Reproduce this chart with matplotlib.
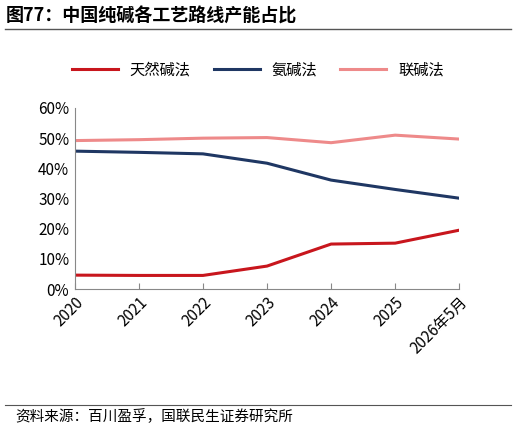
import matplotlib
matplotlib.use("Agg")
import matplotlib.pyplot as plt
from matplotlib.lines import Line2D

plt.rcParams['font.family'] = ['Noto Sans CJK SC', 'DejaVu Sans']

years = ["2020", "2021", "2022", "2023", "2024", "2025", "2026年5月"]
natural = [4.6, 4.5, 4.5, 7.6, 14.9, 15.2, 19.5]
ammonia = [45.7, 45.3, 44.8, 41.7, 36.1, 33.0, 30.1]
joint = [49.2, 49.5, 50.0, 50.2, 48.5, 51.0, 49.7]
names = ["天然碱法", "氨碱法", "联碱法"]
colors = ["#C8161D", "#1F3763", "#EE8A8A"]

fig = plt.figure(figsize=(5.16, 4.32), dpi=100)
ax = fig.add_axes([0.145, 0.331, 0.745, 0.419])
x = range(len(years))
for vals, c, n in zip([natural, ammonia, joint], colors, names):
    ax.plot(x, vals, color=c, lw=2.2, label=n)
ax.set_ylim(0, 60)
ax.set_xlim(0, len(years) - 1)
ax.set_yticks(range(0, 61, 10))
ax.set_yticklabels([f"{v}%" for v in range(0, 61, 10)], fontsize=11)
ax.set_xticks(list(x))
ax.set_xticklabels(years, rotation=45, ha='right', rotation_mode='anchor', fontsize=11)
for s in ['top', 'right']:
    ax.spines[s].set_visible(False)
ax.spines['left'].set_color('#888888')
ax.spines['bottom'].set_color('#888888')
ax.tick_params(axis='y', length=0, pad=4)
ax.tick_params(axis='x', direction='in', length=4, color='#888888')
fig.legend(handles=[Line2D([], [], color=c, lw=2.2) for c in colors], labels=names,
           loc='center', bbox_to_anchor=(0.5, 0.838), ncol=3, frameon=False,
           fontsize=11, handlelength=3, columnspacing=1.5)
fig.text(0.012, 0.962, "图77：中国纯碱各工艺路线产能占比", fontsize=13, fontweight='bold', va='center')
fig.add_artist(Line2D([0.01, 0.99], [0.933, 0.933], color='#555555', lw=1))
fig.add_artist(Line2D([0.01, 0.99], [0.062, 0.062], color='#555555', lw=0.8))
fig.text(0.03, 0.035, "资料来源：百川盈孚，国联民生证券研究所", fontsize=10.5, va='center')
fig.savefig("out.png", dpi=100)
